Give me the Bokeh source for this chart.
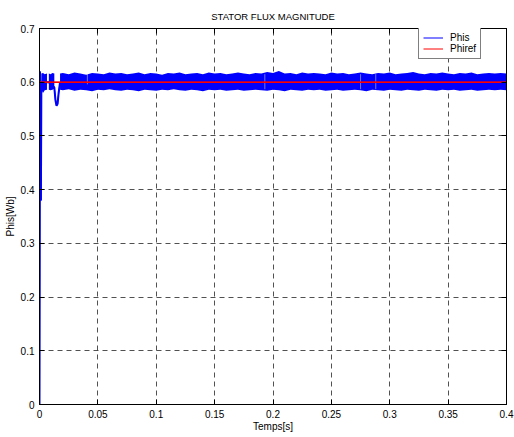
from bokeh.plotting import figure
from bokeh.models import LinearAxis, FixedTicker, Range1d
from bokeh.embed import file_html
from bokeh.resources import INLINE

# ---------------- data ----------------
x_ticks = [0, 0.05, 0.1, 0.15, 0.2, 0.25, 0.3, 0.35, 0.4]
x_tick_labels = ["0", "0.05", "0.1", "0.15", "0.2", "0.25", "0.3", "0.35", "0.4"]
y_ticks = [0, 0.1, 0.2, 0.3, 0.4, 0.5, 0.6, 0.7]
y_tick_labels = ["0", "0.1", "0.2", "0.3", "0.4", "0.5", "0.6", "0.7"]

# Phis: start-up transient, the quiet gap and the dip (drawn as a line)
phis_t = [0.0, 0.0004, 0.0008, 0.0012, 0.0016, 0.0064, 0.0080, 0.0127,
          0.0137, 0.0146, 0.0155, 0.0164, 0.0176]
phis_v = [0.0, 0.62, 0.60, 0.38, 0.60, 0.60, 0.60, 0.59,
          0.566, 0.556, 0.560, 0.580, 0.600]

# Phis ripple envelope, first two short bursts
band_a_t = [0.0016, 0.0030, 0.0045, 0.0064]
band_a_hi = [0.616, 0.617, 0.615, 0.616]
band_a_lo = [0.586, 0.580, 0.585, 0.586]
band_b_t = [0.0080, 0.0095, 0.0110, 0.0127]
band_b_hi = [0.616, 0.615, 0.617, 0.616]
band_b_lo = [0.586, 0.585, 0.586, 0.588]

# Phis ripple envelope, steady state
band_t = [0.0176, 0.02, 0.025, 0.03, 0.035, 0.04, 0.045, 0.05, 0.055, 0.06,
          0.065, 0.07, 0.075, 0.08, 0.085, 0.09, 0.095, 0.10, 0.105, 0.11,
          0.115, 0.12, 0.125, 0.13, 0.135, 0.14, 0.145, 0.15, 0.155, 0.16,
          0.165, 0.17, 0.175, 0.18, 0.185, 0.19, 0.195, 0.20, 0.205, 0.21,
          0.215, 0.22, 0.225, 0.23, 0.235, 0.24, 0.245, 0.25, 0.255, 0.26,
          0.265, 0.27, 0.275, 0.28, 0.285, 0.29, 0.295, 0.30, 0.305, 0.31,
          0.315, 0.32, 0.325, 0.33, 0.335, 0.34, 0.345, 0.35, 0.355, 0.36,
          0.365, 0.37, 0.375, 0.38, 0.385, 0.39, 0.395, 0.40]
band_hi = [0.616, 0.617, 0.615, 0.618, 0.616, 0.614, 0.617, 0.616, 0.615, 0.618,
           0.616, 0.617, 0.615, 0.616, 0.618, 0.615, 0.617, 0.616, 0.614, 0.617,
           0.616, 0.618, 0.615, 0.616, 0.617, 0.615, 0.618, 0.616, 0.617, 0.615,
           0.616, 0.618, 0.616, 0.615, 0.617, 0.616, 0.619, 0.617, 0.621, 0.616,
           0.617, 0.615, 0.618, 0.616, 0.617, 0.616, 0.615, 0.618, 0.616, 0.617,
           0.615, 0.616, 0.618, 0.616, 0.615, 0.617, 0.616, 0.618, 0.615, 0.616,
           0.617, 0.619, 0.616, 0.615, 0.617, 0.616, 0.618, 0.616, 0.615, 0.617,
           0.616, 0.618, 0.615, 0.616, 0.617, 0.616, 0.617, 0.616]
band_lo = [0.586, 0.585, 0.587, 0.584, 0.586, 0.585, 0.583, 0.586, 0.585, 0.587,
           0.585, 0.584, 0.586, 0.585, 0.583, 0.586, 0.585, 0.584, 0.586, 0.585,
           0.587, 0.585, 0.584, 0.586, 0.585, 0.583, 0.586, 0.585, 0.586, 0.584,
           0.585, 0.586, 0.584, 0.585, 0.586, 0.585, 0.584, 0.586, 0.585, 0.583,
           0.586, 0.585, 0.584, 0.586, 0.585, 0.586, 0.584, 0.585, 0.586, 0.584,
           0.585, 0.586, 0.585, 0.583, 0.586, 0.585, 0.584, 0.586, 0.585, 0.584,
           0.586, 0.585, 0.584, 0.586, 0.585, 0.584, 0.586, 0.585, 0.586, 0.584,
           0.585, 0.586, 0.584, 0.585, 0.586, 0.585, 0.586, 0.585]

# thin light gaps seen inside the ripple band
gap_t = [0.041, 0.193, 0.275, 0.288]
gap_lo = [0.596, 0.587, 0.587, 0.587]
gap_hi = [0.616, 0.615, 0.615, 0.615]

# Phiref
phiref_t = [0.0, 0.4]
phiref_v = [0.6, 0.6]

FONT = "Liberation Sans"
BLUE = "#0000FF"
RED = "#FF0000"

p = figure(width=514, height=437, output_backend="svg", toolbar_location=None,
           x_range=Range1d(0, 0.4), y_range=Range1d(0, 0.7),
           min_border_left=39, min_border_right=8, min_border_top=28,
           min_border_bottom=33)
p.background_fill_color = "white"
p.border_fill_color = "white"
p.outline_line_color = "black"
p.outline_line_width = 1

p.title.text = "STATOR FLUX MAGNITUDE"
p.title.align = "center"
p.title.text_font = FONT
p.title.text_font_size = "9.5px"
p.title.text_font_style = "normal"
p.title.text_color = "black"
p.title.standoff = 13

# bottom / left axes
for ax, ticks, labels in ((p.xaxis[0], x_ticks, x_tick_labels),
                          (p.yaxis[0], y_ticks, y_tick_labels)):
    ax.ticker = FixedTicker(ticks=ticks)
    ax.major_label_overrides = dict(zip(ticks, labels))
    ax.major_tick_in = 5
    ax.major_tick_out = 0
    ax.minor_tick_line_color = None
    ax.axis_line_color = "black"
    ax.major_tick_line_color = "black"
    ax.major_label_text_font = FONT
    ax.major_label_text_font_size = "10px"
    ax.major_label_text_color = "black"
    ax.axis_label_text_font = FONT
    ax.axis_label_text_font_size = "10px"
    ax.axis_label_text_font_style = "normal"
    ax.axis_label_text_color = "black"
    ax.major_label_standoff = 5

p.xaxis[0].axis_label = "Temps[s]"
p.xaxis[0].axis_label_standoff = 0
p.yaxis[0].axis_label = "Phis[Wb]"
p.yaxis[0].axis_label_standoff = 2

# mirrored top / right axes (ticks only)
for ticks, side in ((x_ticks, "above"), (y_ticks, "right")):
    ax = LinearAxis(ticker=FixedTicker(ticks=ticks),
                    major_label_text_font_size="0px", major_label_standoff=0,
                    major_tick_in=5, major_tick_out=0,
                    minor_tick_line_color=None, axis_line_color="black",
                    major_tick_line_color="black")
    p.add_layout(ax, side)

# dashed grid
for g, ticks in ((p.xgrid[0], x_ticks), (p.ygrid[0], y_ticks)):
    g.ticker = FixedTicker(ticks=ticks)
    g.grid_line_color = "#333333"
    g.grid_line_width = 1
    g.grid_line_dash = "5 4"
    g.grid_line_alpha = 0.85

# Phis ripple band
for t, lo, hi in ((band_a_t, band_a_lo, band_a_hi),
                  (band_b_t, band_b_lo, band_b_hi),
                  (band_t, band_lo, band_hi)):
    p.varea(x=t, y1=lo, y2=hi, fill_color=BLUE)

p.segment(x0=gap_t, y0=gap_lo, x1=gap_t, y1=gap_hi,
          line_color="white", line_width=1, line_alpha=0.45)

# thick trace for the plot, thin copies carry the legend entries
p.line(phis_t, phis_v, line_color=BLUE, line_width=2)
p.line(phis_t, phis_v, line_color=BLUE, line_width=1, legend_label="Phis")
p.line(phiref_t, phiref_v, line_color=RED, line_width=1.5)
p.line(phiref_t, phiref_v, line_color=RED, line_width=1, legend_label="Phiref")

leg = p.legend[0]
leg.location = (379, 345)
leg.border_line_color = "black"
leg.border_line_width = 1
leg.background_fill_color = "white"
leg.background_fill_alpha = 1
leg.label_text_font = FONT
leg.label_text_font_size = "10px"
leg.label_text_color = "black"
leg.label_height = 11
leg.glyph_height = 11
leg.glyph_width = 20
leg.label_standoff = 7
leg.spacing = 0
leg.padding = 4
leg.margin = 0

open("out.html", "w").write(file_html(p, INLINE))
